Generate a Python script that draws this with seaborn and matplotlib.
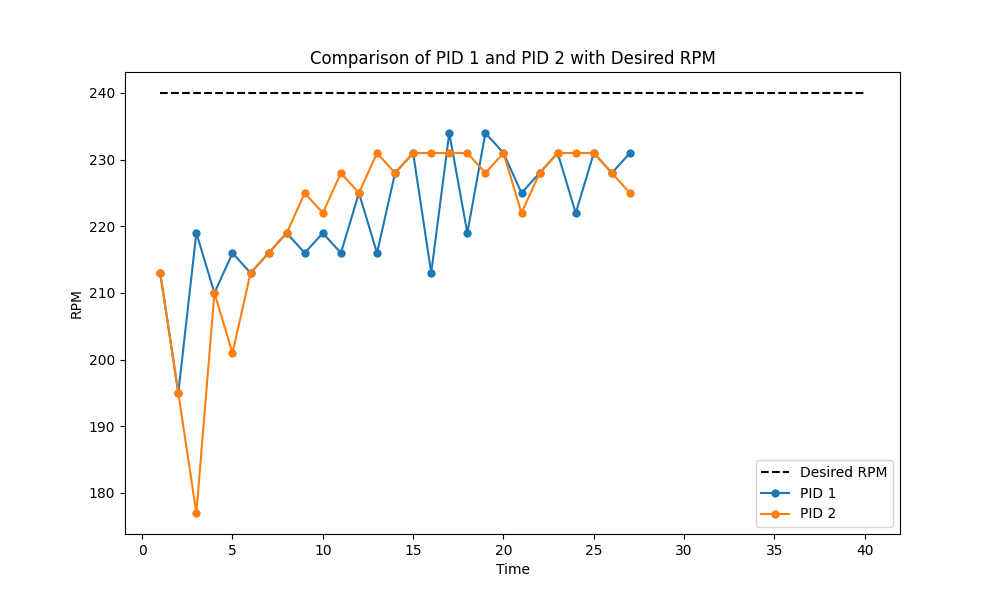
import matplotlib
matplotlib.use("Agg")
import matplotlib.pyplot as plt
import seaborn as sns

time = list(range(1, 28))
desired_time = list(range(1, 41))
desired = [240] * 40
pid1 = [213, 195, 219, 210, 216, 213, 216, 219, 216, 219, 216, 225, 216, 228, 231,
        213, 234, 219, 234, 231, 225, 228, 231, 222, 231, 228, 231]
pid2 = [213, 195, 177, 210, 201, 213, 216, 219, 225, 222, 228, 225, 231, 228, 231,
        231, 231, 231, 228, 231, 222, 228, 231, 231, 231, 228, 225]

fig, ax = plt.subplots(figsize=(10, 6), dpi=100)
sns.lineplot(x=desired_time, y=desired, ax=ax, color="black", linestyle="--", label="Desired RPM")
sns.lineplot(x=time, y=pid1, ax=ax, color="#1f77b4", marker="o", markeredgewidth=0, label="PID 1")
sns.lineplot(x=time, y=pid2, ax=ax, color="#ff7f0e", marker="o", markeredgewidth=0, label="PID 2")
ax.set_title("Comparison of PID 1 and PID 2 with Desired RPM")
ax.set_xlabel("Time")
ax.set_ylabel("RPM")
ax.legend(loc="lower right")
fig.savefig("out.png")
